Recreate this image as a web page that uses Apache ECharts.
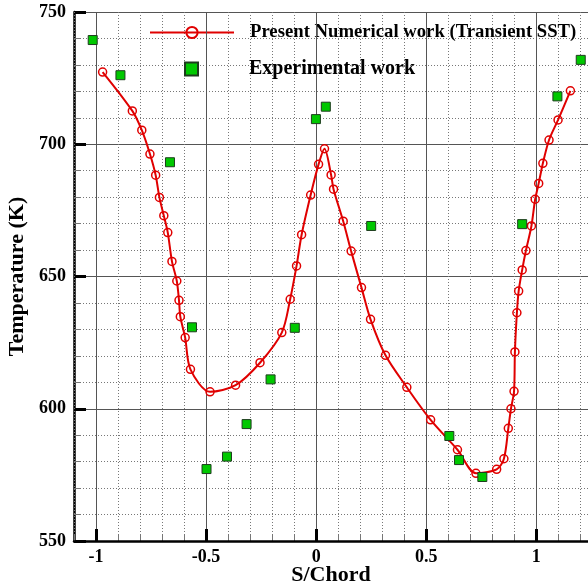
<!DOCTYPE html>
<html><head><meta charset="utf-8">
<script src="https://cdn.jsdelivr.net/npm/echarts@6/dist/echarts.min.js"></script>
<style>html,body{margin:0;padding:0;background:#fff}#c{width:588px;height:587px}</style>
</head><body><div id="c"></div>
<script>
// Present numerical work (Transient SST)
const numX = [-0.970,-0.835,-0.792,-0.755,-0.729,-0.712,-0.692,-0.674,-0.655,-0.633,-0.623,-0.617,-0.595,-0.571,-0.482,-0.366,-0.255,-0.156,-0.118,-0.089,-0.066,-0.025,0.011,0.038,0.068,0.079,0.123,0.159,0.206,0.247,0.315,0.412,0.520,0.642,0.726,0.820,0.853,0.873,0.885,0.899,0.903,0.912,0.920,0.936,0.953,0.978,0.995,1.011,1.030,1.058,1.099,1.155];
const numY = [727.3,712.6,705.3,696.3,688.3,679.9,673.0,666.6,655.7,648.3,641.0,634.8,626.9,614.9,606.4,608.9,617.4,628.8,641.4,654.0,665.8,680.8,692.4,698.3,688.4,683.0,670.9,659.6,645.8,633.8,620.2,608.1,595.8,584.5,575.6,577.1,581.1,592.6,600.0,606.6,621.5,636.3,644.5,652.5,659.8,669.1,679.2,685.2,692.8,701.6,709.2,720.2];
// Experimental work
const expX = [-1.015,-0.889,-0.664,-0.564,-0.498,-0.405,-0.316,-0.207,-0.097,-0.001,0.044,0.250,0.605,0.649,0.755,0.936,1.096,1.202];
const expY = [739.4,726.1,693.2,630.8,577.2,581.9,594.2,611.1,630.6,709.5,714.2,669.1,589.7,580.6,574.2,669.8,718.1,731.9];
const xTicks = [-1,-0.5,0,0.5,1];
const yTicks = [550,600,650,700,750];
const seriesNames = ['Present Numerical work (Transient SST)','Experimental work'];
const xName = 'S/Chord';
const yName = 'Temperature (K)';

const FONT = 'Liberation Serif';
const zip = (a,b) => a.map((v,i)=>[v,b[i]]);
const chart = echarts.init(document.getElementById('c'), null, {renderer:'canvas'});
const xMin = -1.1, xMax = 1.235;
chart.setOption({
  animation:false,
  backgroundColor:'#fff',
  grid:{left:74, right:0, top:12, bottom:46, containLabel:false, outerBoundsMode:'none'},
  legend:[
    {data:[seriesNames[0]], left:149, top:23, padding:0, itemWidth:84, itemHeight:14,
     textStyle:{fontFamily:FONT, fontWeight:'bold', fontSize:18.7, color:'#000', padding:[0,0,0,11]}},
    {data:[seriesNames[1]], left:184, top:59, padding:0, itemWidth:13, itemHeight:13,
     textStyle:{fontFamily:FONT, fontWeight:'bold', fontSize:20, color:'#000', padding:[0,0,0,46]}}
  ],
  xAxis:[
    {type:'value', position:'bottom', min:xMin, max:xMax,
     name:xName, nameLocation:'middle', nameGap:23, nameMoveOverlap:false,
     nameTextStyle:{fontFamily:FONT, fontWeight:'bold', fontSize:22, color:'#000'},
     axisLine:{show:true, onZero:false, lineStyle:{color:'#000', width:2.5}},
     axisTick:{show:true, inside:true, length:12, customValues:xTicks, lineStyle:{color:'#000', width:3}},
     axisLabel:{show:true, customValues:xTicks, margin:7, fontFamily:FONT, fontWeight:'bold', fontSize:18, color:'#000',
       formatter:v=>String(Math.round(v*10)/10)},
     splitLine:{show:true, lineStyle:{color:'#555', width:1, type:'solid'}},
     z:5},
    {type:'value', position:'bottom', min:xMin, max:xMax, interval:0.1,
     axisLine:{show:false},
     axisTick:{show:true, inside:true, length:7, lineStyle:{color:'#777', width:1}},
     axisLabel:{show:false},
     splitLine:{show:true, lineStyle:{color:'#777', width:1, type:[1,2]}},
     z:1}
  ],
  yAxis:{type:'value', min:550, max:750, interval:50,
    name:yName, nameLocation:'middle', nameGap:46, nameRotate:90, nameMoveOverlap:false,
    nameTextStyle:{fontFamily:FONT, fontWeight:'bold', fontSize:22, color:'#000'},
    axisLine:{show:true, onZero:false, lineStyle:{color:'#000', width:2.5}},
    axisTick:{show:true, inside:true, length:12, lineStyle:{color:'#000', width:3}},
    minorTick:{show:true, splitNumber:5, length:7, lineStyle:{color:'#777', width:1}},
    axisLabel:{margin:8, fontFamily:FONT, fontWeight:'bold', fontSize:18, color:'#000',
      formatter:v=>yTicks.includes(v)?String(v):''},
    splitLine:{show:true, lineStyle:{color:'#555', width:1}},
    minorSplitLine:{show:true, lineStyle:{color:'#777', width:1, type:[1,2]}}
  },
  series:[
    {name:seriesNames[0], type:'line', xAxisIndex:0, data:zip(numX,numY), smooth:0.3,
     symbol:'circle', symbolSize:8, showSymbol:true,
     lineStyle:{color:'#e00000', width:2},
     itemStyle:{color:'rgba(255,255,255,0)', borderColor:'#e00000', borderWidth:1.5},
     z:10},
    {name:seriesNames[1], type:'scatter', xAxisIndex:0, data:zip(expX,expY),
     symbol:'rect', symbolSize:9,
     itemStyle:{color:'#00c800', borderColor:'#1e3c1e', borderWidth:1, opacity:1},
     z:11}
  ]
});
</script></body></html>
